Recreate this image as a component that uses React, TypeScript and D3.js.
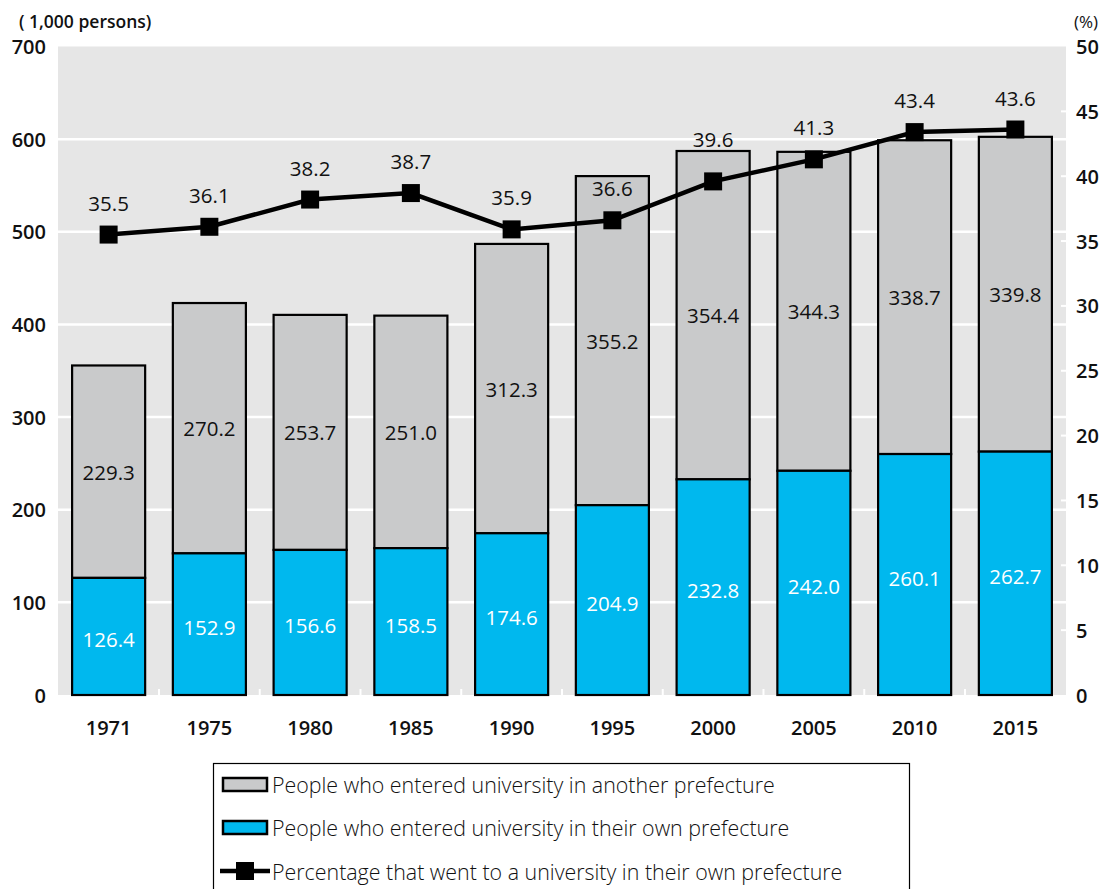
import React from "react";
import * as d3 from "d3";

const years = ["1971", "1975", "1980", "1985", "1990", "1995", "2000", "2005", "2010", "2015"];
const ownPrefecture = [126.4, 152.9, 156.6, 158.5, 174.6, 204.9, 232.8, 242.0, 260.1, 262.7];
const otherPrefecture = [229.3, 270.2, 253.7, 251.0, 312.3, 355.2, 354.4, 344.3, 338.7, 339.8];
const percentOwn = [35.5, 36.1, 38.2, 38.7, 35.9, 36.6, 39.6, 41.3, 43.4, 43.6];
const leftTicks = [0, 100, 200, 300, 400, 500, 600, 700];
const rightTicks = [0, 5, 10, 15, 20, 25, 30, 35, 40, 45, 50];
const legendLabels = [
  "People who entered university in another prefecture",
  "People who entered university in their own prefecture",
  "Percentage that went to a university in their own prefecture",
];

const W = 1107;
const H = 889;
const M = { left: 58, right: 1066, top: 46.5, bottom: 695 };
const FONT = "'Open Sans', 'Noto Sans', sans-serif";
const BLUE = "#00b8ee";
const GRAY = "#c9cacb";
const BG = "#e6e6e6";

export default function App() {
  const x = d3.scaleBand<string>().domain(years).range([M.left, M.right]).paddingInner(0.275).paddingOuter(0.14);
  const yL = d3.scaleLinear().domain([0, 700]).range([M.bottom, M.top]);
  const yR = d3.scaleLinear().domain([0, 50]).range([M.bottom, M.top]);
  const bw = x.bandwidth();
  const line = d3
    .line<number>()
    .x((_, i) => (x(years[i]) as number) + bw / 2)
    .y((d) => yR(d));
  const step = x.step();

  const labelY = (i: number) => {
    const ly = yR(percentOwn[i]) - 32;
    const top = yL(ownPrefecture[i] + otherPrefecture[i]);
    if (Math.abs(ly - top) < 12) return top - 12;
    return ly;
  };

  return (
    <svg width={W} height={H} style={{ position: "absolute", left: 0, top: 0, fontFamily: FONT }}>
      <rect x={M.left} y={M.top} width={M.right - M.left} height={M.bottom - M.top} fill={BG} />
      {leftTicks.slice(1, -1).map((t) => (
        <line key={"g" + t} x1={M.left} x2={M.right} y1={yL(t)} y2={yL(t)} stroke="#fff" strokeWidth={2.5} />
      ))}
      {rightTicks.slice(1, -1).map((t) => (
        <line key={"rt" + t} x1={M.right - 5} x2={M.right} y1={yR(t)} y2={yR(t)} stroke="#fff" strokeWidth={2} />
      ))}
      {years.slice(1).map((yr) => {
        const bx = (x(yr) as number) - (step - bw) / 2;
        return <line key={"bt" + yr} x1={bx} x2={bx} y1={M.bottom - 6} y2={M.bottom} stroke="#fff" strokeWidth={2} />;
      })}
      {years.map((yr, i) => {
        const bx = x(yr) as number;
        const own = ownPrefecture[i];
        const tot = own + otherPrefecture[i];
        return (
          <g key={yr}>
            <rect x={bx} y={yL(tot)} width={bw} height={yL(own) - yL(tot)} fill={GRAY} stroke="#000" strokeWidth={2.2} />
            <rect x={bx} y={yL(own)} width={bw} height={yL(0) - yL(own)} fill={BLUE} stroke="#000" strokeWidth={2.2} />
            <text x={bx + bw / 2} y={(yL(own) + yL(tot)) / 2} textAnchor="middle" dominantBaseline="central" fontSize={20.5} fill="#111">
              {otherPrefecture[i].toFixed(1)}
            </text>
            <text x={bx + bw / 2} y={(yL(own) + yL(0)) / 2 + 3} textAnchor="middle" dominantBaseline="central" fontSize={20.5} fill="#fff">
              {own.toFixed(1)}
            </text>
            <text x={bx + bw / 2} y={727} textAnchor="middle" dominantBaseline="central" fontSize={20} fontWeight={600} fill="#111">
              {yr}
            </text>
          </g>
        );
      })}
      <path d={line(percentOwn) || ""} fill="none" stroke="#000" strokeWidth={4.5} />
      {percentOwn.map((p, i) => {
        const cx = (x(years[i]) as number) + bw / 2;
        return (
          <g key={"p" + i}>
            <rect x={cx - 9} y={yR(p) - 9} width={18} height={18} fill="#000" />
            <text x={cx} y={labelY(i)} textAnchor="middle" dominantBaseline="central" fontSize={20.5} fill="#111">
              {p.toFixed(1)}
            </text>
          </g>
        );
      })}
      {leftTicks.map((t) => (
        <text key={"lt" + t} x={46} y={yL(t)} textAnchor="end" dominantBaseline="central" fontSize={20} fontWeight={600} fill="#111">
          {t}
        </text>
      ))}
      {rightTicks.map((t) => (
        <text key={"rl" + t} x={1076} y={yR(t)} textAnchor="start" dominantBaseline="central" fontSize={20} fontWeight={600} fill="#111">
          {t}
        </text>
      ))}
      <text x={19} y={21} fontSize={17.5} fontWeight={600} dominantBaseline="central" fill="#111">( 1,000 persons)</text>
      <text x={1074} y={21} fontSize={17} dominantBaseline="central" fill="#111">(%)</text>

      <rect x={213.5} y={763.5} width={696} height={140} fill="#fff" stroke="#000" strokeWidth={1.2} />
      <rect x={223} y={778} width={44} height={13} fill={GRAY} stroke="#000" strokeWidth={2.5} />
      <rect x={223} y={821} width={44} height={13} fill={BLUE} stroke="#000" strokeWidth={2.5} />
      <line x1={220} x2={270} y1={871} y2={871} stroke="#000" strokeWidth={4.5} />
      <rect x={236} y={862} width={18} height={18} fill="#000" />
      {legendLabels.map((l, i) => (
        <text key={l} x={272} y={784 + i * 43.5} fontSize={21.4} fontWeight={300} dominantBaseline="central" fill="#111">
          {l}
        </text>
      ))}
    </svg>
  );
}
